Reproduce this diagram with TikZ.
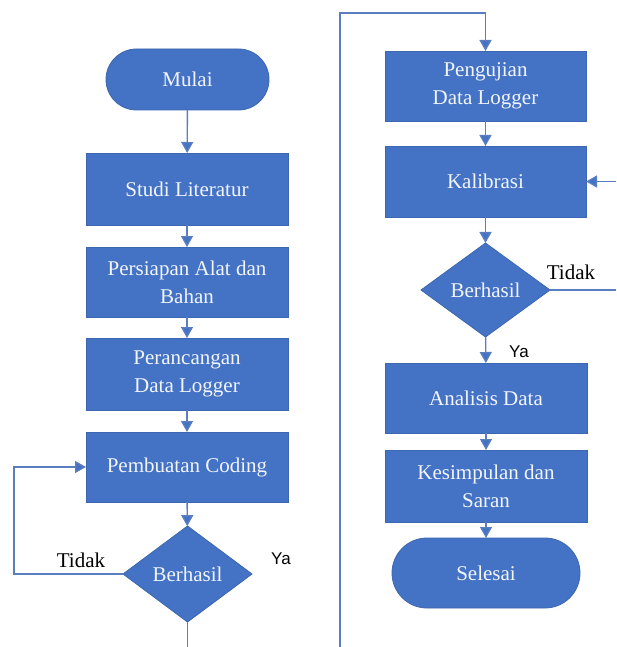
\documentclass[tikz,border=0pt]{standalone}
\usepackage{fontspec}
\setmainfont{Liberation Serif}
\newfontfamily\labsans{Liberation Sans}
\usetikzlibrary{shapes.geometric,shapes.misc,arrows.meta}
\definecolor{boxblue}{HTML}{4472C4}
\definecolor{boxedge}{HTML}{3D66B0}
\definecolor{linkblue}{HTML}{5A7EC0}
\definecolor{boxtext}{HTML}{F2F5FB}
\begin{document}
\begin{tikzpicture}[x=1pt,y=-1pt,
  every node/.style={inner sep=0pt,outer sep=0pt},
  procbox/.style={rectangle,fill=boxblue,draw=boxedge,line width=0.8pt,
    minimum width=202pt,text=boxtext,align=center,
    font=\fontsize{21}{28}\selectfont},
  termbox/.style={rounded rectangle,fill=boxblue,draw=boxedge,line width=0.8pt,
    text=boxtext,font=\fontsize{21}{28}\selectfont},
  decbox/.style={diamond,fill=boxblue,draw=boxedge,line width=0.8pt,
    minimum width=129pt,text=boxtext,font=\fontsize{21}{28}\selectfont},
  link/.style={draw=linkblue,line width=1.4pt,
    -{Triangle[width=12pt,length=11pt,fill=boxblue]}},
  plain/.style={draw=linkblue,line width=1.4pt},
  serlab/.style={font=\fontsize{21}{24}\selectfont,text=black},
  sanslab/.style={font=\labsans\fontsize{17}{20}\selectfont,text=black}
]
\useasboundingbox (0,0) rectangle (616,647);
\fill[white] (0,0) rectangle (616,647);

% left column
\node[termbox,minimum width=163pt,minimum height=61pt] (mulai) at (187.5,79.5) {Mulai};
\node[procbox,minimum height=72pt] (studi) at (187,189) {Studi Literatur};
\node[procbox,minimum height=70pt] (persiapan) at (187,282) {Persiapan Alat dan\\Bahan};
\node[procbox,minimum height=72pt] (perancangan) at (187,374) {Perancangan\\Data Logger};
\node[procbox,minimum height=70pt] (pembuatan) at (187,467) {Pembuatan Coding};
\node[decbox,minimum height=96pt] (berhasilL) at (187.5,574) {Berhasil};

% right column
\node[procbox,minimum width=201pt,minimum height=70pt] (pengujian) at (485.5,86) {Pengujian\\Data Logger};
\node[procbox,minimum width=201pt,minimum height=71pt] (kalibrasi) at (485.5,181.5) {Kalibrasi};
\node[decbox,minimum height=94pt] (berhasilR) at (485.5,290) {Berhasil};
\node[procbox,minimum height=70pt] (analisis) at (486,398) {Analisis Data};
\node[procbox,minimum height=72pt] (kesimpulan) at (486,486) {Kesimpulan dan\\Saran};
\node[termbox,minimum width=188pt,minimum height=70pt] (selesai) at (486,573) {Selesai};

% free ends
\coordinate (loopL) at (14,574);
\coordinate (endL) at (187.5,647);
\coordinate (startR) at (340,647);
\coordinate (topR) at (340,13);
\coordinate (tidakR) at (616,290);
\coordinate (backR) at (616,181.5);

% connectors left
\draw[link] (mulai) -- (studi);
\draw[link] (studi) -- (persiapan);
\draw[link] (persiapan) -- (perancangan);
\draw[link] (perancangan) -- (pembuatan);
\draw[link] (pembuatan) -- (berhasilL);
\draw[link] (berhasilL.west) -- (loopL) |- (pembuatan.west);
\draw[plain] (berhasilL.south) -- (endL);

% connectors right
\draw[link] (startR) -- (topR) -| (pengujian.north);
\draw[link] (pengujian) -- (kalibrasi);
\draw[link] (kalibrasi) -- (berhasilR);
\draw[link] (berhasilR) -- (analisis);
\draw[link] (analisis) -- (kesimpulan);
\draw[link] (kesimpulan) -- (selesai);
\draw[plain] (berhasilR.east) -- (tidakR);
\draw[link] (backR) -- (kalibrasi.east);

% labels
\node[serlab] (tidakLlab) at (81,560) {Tidak};
\node[sanslab] (yaLlab) at (281,559) {Ya};
\node[serlab] (tidakRlab) at (571,272) {Tidak};
\node[sanslab] (yaRlab) at (519,352) {Ya};
\end{tikzpicture}
\end{document}
